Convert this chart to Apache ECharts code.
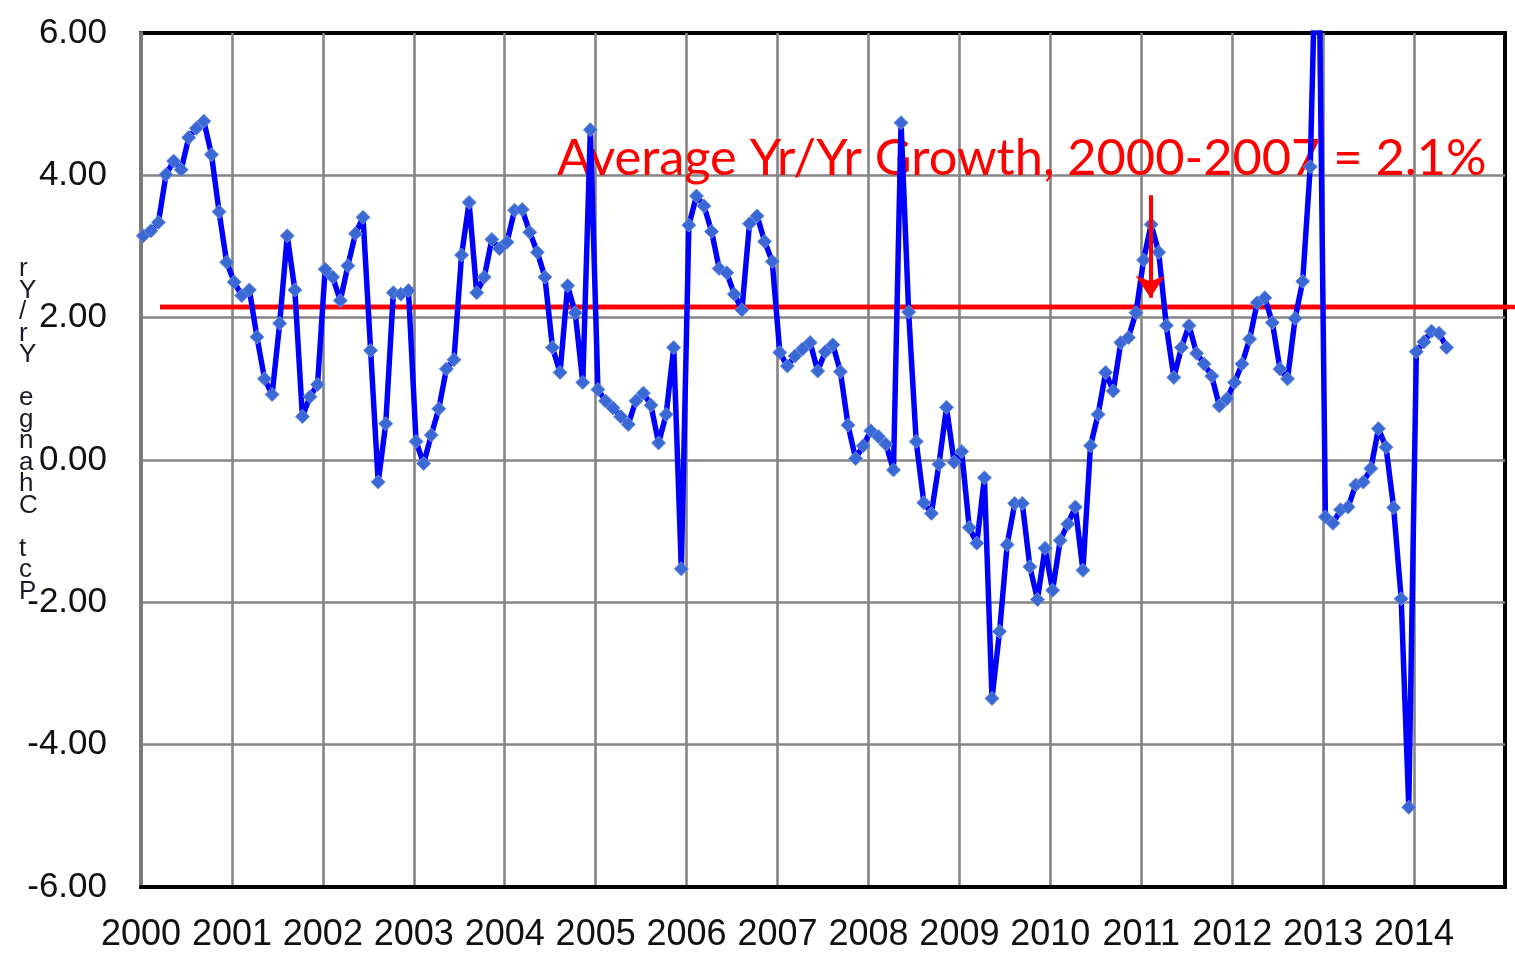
<!DOCTYPE html>
<html><head><meta charset="utf-8">
<script src="https://cdn.jsdelivr.net/npm/echarts@6/dist/echarts.min.js"></script>
<style>html,body{margin:0;padding:0;background:#fff}#c{width:1515px;height:953px}</style>
</head><body><div id="c"></div>
<script>
// Monthly Yr/Yr % change, one array per year (Jan..Dec)
const y2000 = [3.15, 3.22, 3.34, 4.01, 4.20, 4.08, 4.53, 4.66, 4.76, 4.29, 3.49, 2.78];
const y2001 = [2.50, 2.31, 2.39, 1.73, 1.14, 0.92, 1.92, 3.15, 2.39, 0.61, 0.89, 1.06];
const y2002 = [2.68, 2.57, 2.24, 2.73, 3.18, 3.41, 1.54, -0.31, 0.51, 2.35, 2.33, 2.38];
const y2003 = [0.26, -0.05, 0.35, 0.72, 1.28, 1.41, 2.88, 3.62, 2.35, 2.57, 3.10, 2.97];
const y2004 = [3.06, 3.51, 3.52, 3.20, 2.92, 2.57, 1.58, 1.23, 2.45, 2.07, 1.09, 4.64];
const y2005 = [0.99, 0.83, 0.73, 0.61, 0.50, 0.83, 0.94, 0.77, 0.24, 0.64, 1.58, -1.53];
const y2006 = [3.30, 3.71, 3.57, 3.21, 2.69, 2.63, 2.33, 2.11, 3.32, 3.43, 3.07, 2.79];
const y2007 = [1.51, 1.32, 1.46, 1.56, 1.65, 1.25, 1.52, 1.62, 1.24, 0.49, 0.02, 0.20];
const y2008 = [0.41, 0.33, 0.22, -0.14, 4.74, 2.08, 0.26, -0.60, -0.75, -0.06, 0.74, -0.03];
const y2009 = [0.12, -0.95, -1.17, -0.25, -3.35, -2.41, -1.19, -0.61, -0.61, -1.50, -1.96, -1.24];
const y2010 = [-1.83, -1.13, -0.90, -0.66, -1.55, 0.20, 0.64, 1.23, 0.97, 1.65, 1.72, 2.07];
const y2011 = [2.81, 3.31, 2.92, 1.89, 1.16, 1.58, 1.89, 1.50, 1.35, 1.18, 0.76, 0.86];
const y2012 = [1.09, 1.35, 1.70, 2.21, 2.28, 1.93, 1.28, 1.14, 1.99, 2.51, 4.12, 8.50];
const y2013 = [-0.80, -0.89, -0.70, -0.66, -0.35, -0.31, -0.12, 0.44, 0.18, -0.67, -1.95, -4.88];
const y2014 = [1.52, 1.66, 1.81, 1.78, 1.58];

const startYear = 2000;
const yearValues = [y2000, y2001, y2002, y2003, y2004, y2005, y2006, y2007, y2008, y2009, y2010, y2011, y2012, y2013, y2014];

const averageValue = [2.15];            // drawn level of the average line
const averageSpan = [2000.21, 2015.11]; // x extent of the average line
const arrowFrom = [2011.1, 3.72];
const arrowTo = [2011.1, 2.28];
const annotationText = 'Average Yr/Yr Growth, 2000-2007 = 2.1%';
const yAxisTitle = 'Pct Change Yr/Yr';

const seriesData = [];
yearValues.forEach((arr, yi) => {
  arr.forEach((v, m) => seriesData.push([startYear + yi + (m + 0.3) / 12, v]));
});

const stackedTitle = yAxisTitle.split('').reverse().join('\n');

const chart = echarts.init(document.getElementById('c'));
chart.setOption({
  animation: false,
  backgroundColor: '#fff',
  grid: { left: 141, right: 10, top: 33, bottom: 66, show: true, borderColor: '#000', borderWidth: 4, backgroundColor: 'transparent' },
  xAxis: {
    type: 'value', min: 2000, max: 2015, interval: 1,
    axisLine: { show: true, onZero: false, lineStyle: { color: '#000', width: 4 } },
    axisTick: { show: false },
    axisLabel: { formatter: v => v < 2015 ? String(v) : '', color: '#111', fontFamily: 'Liberation Sans, Arial', fontSize: 36, margin: 30 },
    splitLine: { show: true, showMinLine: true, showMaxLine: false, lineStyle: { color: '#858585', width: 2.6 } }
  },
  yAxis: {
    type: 'value', min: -6, max: 6, interval: 2,
    axisLine: { show: true, onZero: false, lineStyle: { color: '#7a7a7a', width: 4 } },
    axisTick: { show: false },
    axisLabel: { formatter: v => v.toFixed(2), color: '#111', fontFamily: 'Liberation Sans, Arial', fontSize: 35, margin: 34 },
    splitLine: { show: true, showMinLine: false, showMaxLine: false, lineStyle: { color: '#858585', width: 2.6 } }
  },
  series: [
    {
      type: 'line', name: 'average', z: 1, symbol: 'none', silent: true,
      data: averageSpan.map(x => [x, averageValue[0]]),
      lineStyle: { color: '#ff0000', width: 4.5 }
    },
    {
      type: 'line', name: 'Yr/Yr', z: 3, data: seriesData,
      symbol: 'diamond', symbolSize: 14,
      lineStyle: { color: '#0000ff', width: 5.5 },
      itemStyle: { color: '#3a68d4', borderColor: '#6a8ee0', borderWidth: 1 },
      markLine: {
        silent: true, symbol: ['none', 'arrow'], symbolSize: 22,
        label: { show: false },
        lineStyle: { color: '#ff0000', width: 4, type: 'solid' },
        data: [[{ coord: arrowFrom }, { coord: arrowTo }]]
      }
    }
  ]
});

// average line extends past the plot frame to the page edge
const pA = chart.convertToPixel({ gridIndex: 0 }, [averageSpan[0], averageValue[0]]);
const pB = chart.convertToPixel({ gridIndex: 0 }, [averageSpan[1], averageValue[0]]);
chart.setOption({
  graphic: [
    { type: 'line', z: 1, shape: { x1: pA[0], y1: pA[1], x2: pB[0], y2: pB[1] },
      style: { stroke: '#ff0000', lineWidth: 4.5 } },
    { type: 'text', left: 557, top: 133, z: 1,
      style: { text: annotationText, fill: '#ff0000', font: '50.5px Lato, "Open Sans", sans-serif' } },
    { type: 'text', left: 19, top: 256, z: 10,
      style: { text: stackedTitle, fill: '#1a1a2a', font: '26px "Liberation Sans", Arial', lineHeight: 21.5, align: 'center' } }
  ]
});
</script></body></html>
